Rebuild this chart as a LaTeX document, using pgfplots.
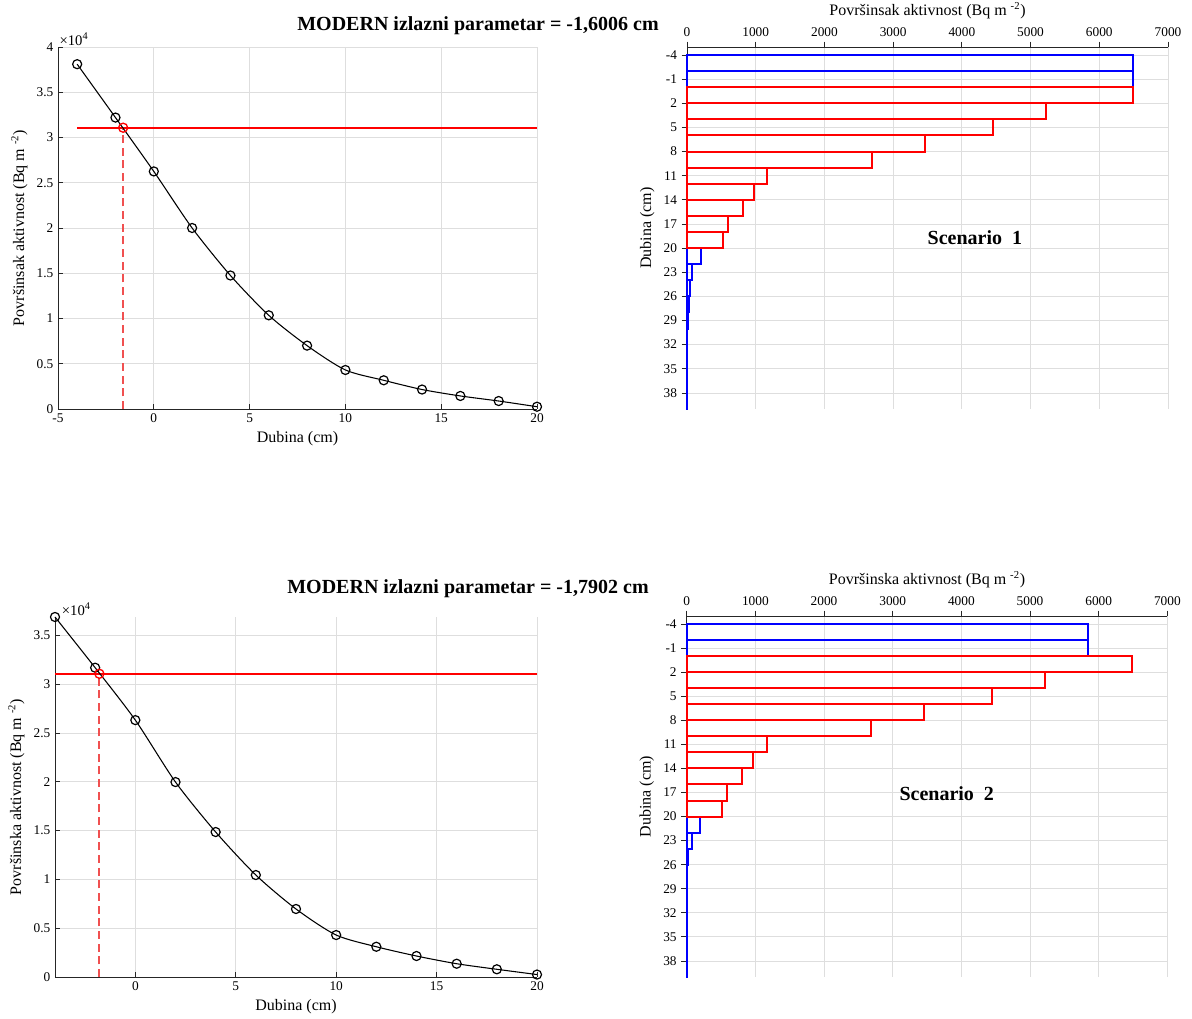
\documentclass[border=0pt]{standalone}
\usepackage{fontspec}
\setmainfont{Liberation Serif}
\usepackage{pgfplots}
\pgfplotsset{compat=1.18}

\definecolor{axgray}{RGB}{38,38,38}
\definecolor{gridgray}{RGB}{222,222,222}
\definecolor{dashred}{RGB}{240,80,80}
\definecolor{myred}{RGB}{255,0,0}
\definecolor{myblue}{RGB}{0,0,255}

\pgfplotsset{
  base/.style={
    scale only axis,
    anchor=south west,
    clip=false,
    /pgf/number format/assume math mode=true,
    /pgf/number format/1000 sep={},
    grid=major,
    major grid style={draw=gridgray, line width=0.6pt},
    axis line style={draw=axgray, line width=0.6pt},
    tick style={draw=axgray, line width=0.6pt},
    major tick length=4pt,
    tick label style={font=\fontsize{10}{12}\selectfont},
    label style={font=\fontsize{12}{14}\selectfont},
  },
  curve/.style={draw=black, line width=0.8pt, smooth, tension=0.45, mark=o, mark size=3.4pt,
    mark options={draw=black, line width=0.9pt, solid}},
  bars/.style={xbar, bar width=2, bar shift=0pt, fill=none, line width=1.5pt},
}

\begin{document}
\begin{tikzpicture}
\useasboundingbox (0,0) rectangle (894pt,764.25pt);

% ---------------- top left ----------------
\begin{axis}[base, at={(43.5pt,457.5pt)}, width=359.25pt, height=271.5pt,
  axis x line*=bottom, axis y line*=left, tick align=inside,
  xmin=-5, xmax=20, ymin=0, ymax=40000,
  xtick={-5,0,5,10,15,20},
  ytick={0,5000,10000,15000,20000,25000,30000,35000,40000},
  yticklabels={0,0.5,1,1.5,2,2.5,3,3.5,4},
  scaled y ticks=false,
  xlabel={Dubina (cm)},
  ylabel={Površinsak aktivnost (Bq m \textsuperscript{-2})},
]
\addplot[color=myred, line width=1.4pt, mark=none] coordinates {(-4,31080) (20,31080)};
\addplot[color=dashred, line width=1.4pt, mark=none, dash pattern=on 6pt off 3.5pt] coordinates {(-1.6006,0) (-1.6006,31080)};
\addplot[curve] coordinates {
(-4,38100) (-2,32200) (0,26250) (2,20000) (4,14750) (6,10350) (8,7000)
(10,4310) (12,3170) (14,2150) (16,1440) (18,880) (20,250)};
\addplot[only marks, mark=o, mark size=3.4pt, mark options={draw=myred, line width=1pt}] coordinates {(-1.6006,31080)};
\node[anchor=south west, inner sep=1pt, font=\fontsize{11}{13}\selectfont] at (rel axis cs:0,1) {×10\textsuperscript{4}};
\end{axis}

% ---------------- top right ----------------
\begin{axis}[base, at={(515.25pt,457.5pt)}, width=360.75pt, height=271.5pt,
  y dir=reverse, axis x line*=top, axis y line*=left, tick align=outside,
  xmin=0, xmax=7000, ymin=-5, ymax=40,
  xtick={0,1000,2000,3000,4000,5000,6000,7000},
  ytick={-4,-1,2,5,8,11,14,17,20,23,26,29,32,35,38},
  scaled x ticks=false,
  xlabel={Površinsak aktivnost (Bq m \textsuperscript{-2})},
  ylabel={Dubina (cm)},
]
\addplot[bars, color=myblue] coordinates {
(6490,-3) (6490,-1) (200,21) (78,23) (38,25) (22,27) (10,29) (5,31) (3,33) (2,35) (1,37) (1,39)};
\addplot[bars, color=myred] coordinates {
(6490,1) (5225,3) (4460,5) (3460,7) (2690,9) (1170,11) (970,13) (810,15) (590,17) (525,19)};
\node[font=\bfseries\fontsize{15}{17}\selectfont] at (axis cs:4190,18.7) {Scenario\ \ 1};
\end{axis}

% ---------------- bottom left ----------------
\begin{axis}[base, at={(41.25pt,31.5pt)}, width=361.5pt, height=270pt,
  axis x line*=bottom, axis y line*=left, tick align=inside,
  xmin=-4, xmax=20, ymin=0, ymax=36900,
  xtick={0,5,10,15,20},
  ytick={0,5000,10000,15000,20000,25000,30000,35000},
  yticklabels={0,0.5,1,1.5,2,2.5,3,3.5},
  scaled y ticks=false,
  xlabel={Dubina (cm)},
  ylabel={Površinska aktivnost (Bq m \textsuperscript{-2})},
]
\addplot[color=myred, line width=1.4pt, mark=none] coordinates {(-4,31080) (20,31080)};
\addplot[color=dashred, line width=1.4pt, mark=none, dash pattern=on 6pt off 3.5pt] coordinates {(-1.7902,0) (-1.7902,31080)};
\addplot[curve] coordinates {
(-4,36900) (-2,31700) (0,26330) (2,19980) (4,14860) (6,10450) (8,6970)
(10,4300) (12,3100) (14,2150) (16,1360) (18,790) (20,250)};
\addplot[only marks, mark=o, mark size=3.4pt, mark options={draw=myred, line width=1pt}] coordinates {(-1.7902,31080)};
\node[anchor=south west, inner sep=1pt, xshift=4pt, font=\fontsize{11}{13}\selectfont] at (rel axis cs:0,1) {×10\textsuperscript{4}};
\end{axis}

% ---------------- bottom right ----------------
\begin{axis}[base, at={(515pt,31.5pt)}, width=360.5pt, height=270.75pt,
  y dir=reverse, axis x line*=top, axis y line*=left, tick align=outside,
  xmin=0, xmax=7000, ymin=-5, ymax=40,
  xtick={0,1000,2000,3000,4000,5000,6000,7000},
  ytick={-4,-1,2,5,8,11,14,17,20,23,26,29,32,35,38},
  scaled x ticks=false,
  xlabel={Površinska aktivnost (Bq m \textsuperscript{-2})},
  ylabel={Dubina (cm)},
]
\addplot[bars, color=myblue] coordinates {
(5850,-3) (5850,-1) (194,21) (73,23) (24,25) (10,27) (5,29) (3,31) (2,33) (1,35) (1,37) (1,39)};
\addplot[bars, color=myred] coordinates {
(6481,1) (5223,3) (4451,5) (3456,7) (2684,9) (1165,11) (970,13) (805,15) (583,17) (519,19)};
\node[font=\bfseries\fontsize{15}{17}\selectfont] at (axis cs:3787,17.2) {Scenario\ \ 2};
\end{axis}

% titles
\node[font=\bfseries\fontsize{15}{17}\selectfont] at (358.5pt,744.75pt) {MODERN izlazni parametar = -1,6006 cm};
\node[font=\bfseries\fontsize{15}{17}\selectfont] at (351pt,322.5pt) {MODERN izlazni parametar = -1,7902 cm};
\end{tikzpicture}
\end{document}
